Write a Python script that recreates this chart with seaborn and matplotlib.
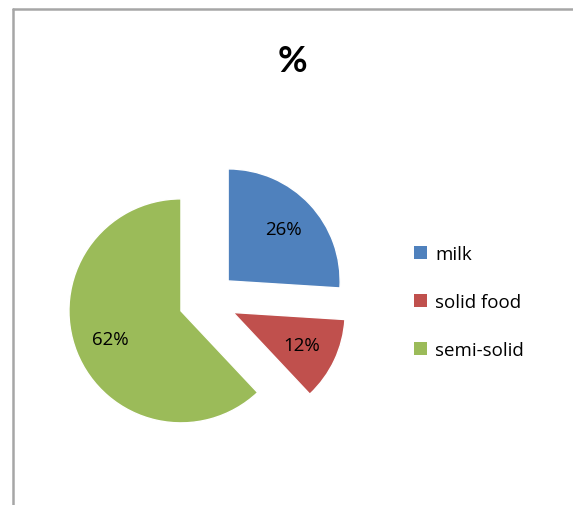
import matplotlib
matplotlib.use("Agg")
import matplotlib.pyplot as plt
from matplotlib.patches import Patch
from matplotlib.lines import Line2D
import seaborn as sns

# data
categories = ["milk", "solid food", "semi-solid"]
shares = [26, 12, 62]
colors = ["#4F81BD", "#C0504D", "#9BBB59"]

sns.set_theme(style="white")
plt.rcParams['font.family'] = ['Open Sans', 'DejaVu Sans']
plt.rcParams['text.color'] = 'black'

W, H = 573, 506
fig = plt.figure(figsize=(W / 100, H / 100), dpi=100)
fig.patch.set_facecolor("white")

# chart frame (only left and top edges visible in the crop)
fig.add_artist(Line2D([13 / W, 13 / W], [0, 1 - 10 / H], color="#a6a6a6", lw=1.8))
fig.add_artist(Line2D([13 / W, 1], [1 - 10 / H, 1 - 10 / H], color="#a6a6a6", lw=1.8))

# pie axes: centre at (207, 301) px, radius 112 px
cx, cy, r, L = 207.4, 301.4, 112, 1.5
side = 2 * L * r
ax = fig.add_axes([(cx - side / 2) / W, (H - cy - side / 2) / H, side / W, side / H])
wedges, texts, autotexts = ax.pie(
    shares, colors=colors, startangle=90, counterclock=False,
    explode=[0.254] * 3, autopct="%1.0f%%", pctdistance=0.68,
    textprops={"fontsize": 13.5, "color": "black"},
)
ax.set_xlim(-L, L)
ax.set_ylim(-L, L)
ax.axis("off")

fig.text(292 / W, 1 - 62 / H, "%", ha="center", va="center",
         fontsize=26, fontweight="bold", family=["Lato", "DejaVu Sans"])

handles = [Patch(facecolor=c, edgecolor="none") for c in colors]
fig.legend(handles, categories, loc="upper left",
           bbox_to_anchor=(397 / W, 1 - 229 / H), frameon=False,
           fontsize=13.5, handlelength=0.7, handleheight=0.7,
           handletextpad=0.45, labelspacing=1.6)

fig.savefig("out.png", dpi=100)
